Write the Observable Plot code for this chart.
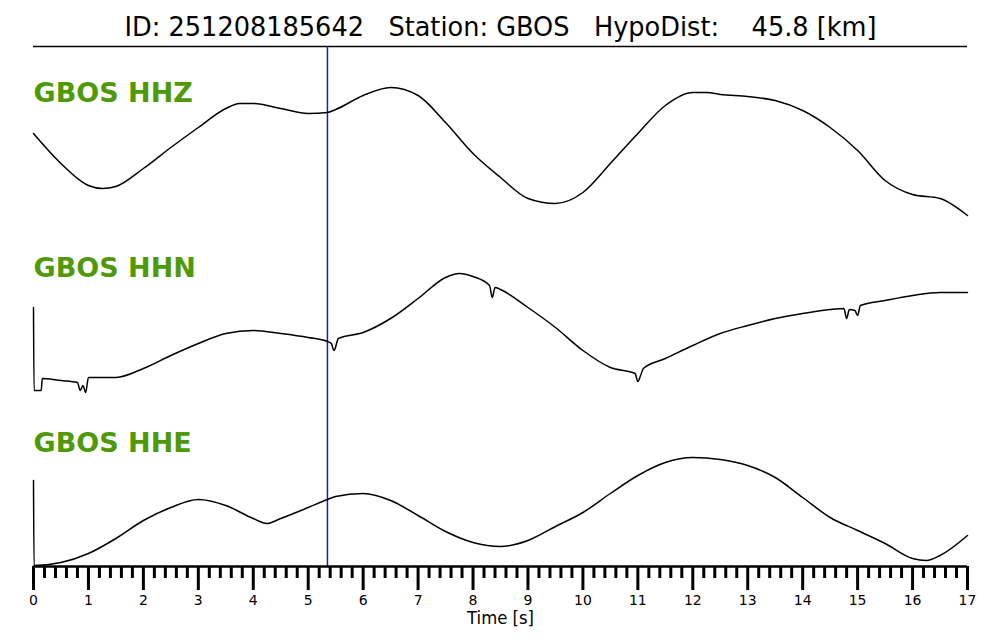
<!DOCTYPE html>
<html><head><meta charset="utf-8">
<script src="https://cdn.jsdelivr.net/npm/d3@7"></script>
<script src="https://cdn.jsdelivr.net/npm/@observablehq/plot@0.6"></script>
<style>body{margin:0;background:#fff} #chart svg{white-space:pre;display:block}</style>
</head><body><div id="chart"></div>
<script>
const title = "ID: 251208185642   Station: GBOS   HypoDist:    45.8 [km]";
const xLabel = "Time [s]";
const channels = ["GBOS HHZ", "GBOS HHN", "GBOS HHE"];
const pickTime = [5.35];
const majorTicks = d3.range(0, 18);
const minorTicks = d3.range(0, 86).map(i => i / 5).filter(v => !Number.isInteger(v));

// Relative amplitudes (arbitrary units, up = positive)
const hhzT = [0,0.5,1,1.25,1.5,2,2.5,3,3.5,3.75,4,4.5,5,5.35,5.5,6,6.5,7,7.5,8,8.5,9,9.5,10,10.5,11,11.5,12,12.25,12.5,13,13.5,14,14.5,15,15.5,16,16.5,17];
const hhzA = [17,-13,-35,-38,-36,-18,3,23,42,47,47,42,37,38,41,55,63,55,28,-3,-27,-48,-53,-42,-13,17,45,58,58,56,54,50,40,23,0,-30,-44,-48,-65];

const hhnT = [0,0.01,0.14,0.16,0.5,0.8,0.85,0.9,0.95,1.0,1.5,2,2.5,3,3.5,4,4.5,5,5.35,5.42,5.47,5.55,6,6.5,7,7.5,7.75,8,8.3,8.35,8.4,8.5,9,9.5,10,10.5,10.95,11.0,11.05,11.1,11.5,12,12.5,13,13.5,14,14.5,14.75,14.8,14.85,14.95,15.0,15.05,15.5,16,16.5,17];
const hhnA = [18,-65,-65,-53,-55,-57,-65,-60,-67,-52,-52,-43,-30,-18,-8,-5,-8,-12,-16,-18,-25,-13,-7,7,27,48,52,49,40,28,38,36,18,-2,-25,-42,-48,-56,-50,-43,-33,-20,-8,0,7,12,16,17,7,16,15,10,20,25,30,33,33];

const hheT = [0,0.01,0.5,1,1.5,2,2.5,3,3.5,4,4.25,4.5,5,5.35,5.5,6,6.5,7,7.5,8,8.5,9,9.5,10,10.5,11,11.5,12,12.5,13,13.5,14,14.5,15,15.5,16,16.25,16.5,17];
const hheA = [20,-65,-62,-53,-38,-20,-7,1,-5,-18,-23,-18,-7,1,4,7,0,-15,-31,-42,-46,-40,-26,-12,7,25,38,43,41,35,23,3,-17,-30,-43,-58,-60,-55,-35];

const spacing = 175;      // vertical separation between channels (amplitude units)
const labelLift = 49;     // channel label baseline above trace centre
const traces = [[hhzT, hhzA], [hhnT, hhnA], [hheT, hheA]];
const rows = traces.flatMap(([t, a], i) => t.map((tt, j) => ({channel: channels[i], t: tt, v: a[j] - i * spacing})));
const labels = channels.map((c, i) => ({channel: c, t: 0, v: labelLift - i * spacing}));

const yTop = 104, yBottom = -416;
const green = "#4e9a06";

const plot = Plot.plot({
  width: 1000, height: 640,
  marginLeft: 33, marginRight: 33, marginTop: 46, marginBottom: 74,
  x: {domain: [0, 17], axis: null},
  y: {domain: [yBottom, yTop], axis: null},
  style: {fontFamily: "DejaVu Sans", background: "#fff"},
  marks: [
    Plot.ruleY([yTop], {stroke: "#000", strokeWidth: 1.5}),
    Plot.ruleX(pickTime, {y1: yTop, y2: yBottom, stroke: "#1a1ad0", strokeWidth: 1.5}),
    Plot.line(rows, {x: "t", y: "v", z: "channel", stroke: "#000", strokeWidth: 1.5, curve: "monotone-x"}),
    Plot.text(labels, {x: "t", y: "v", text: "channel", textAnchor: "start", lineAnchor: "bottom", fill: green, fontWeight: "bold", fontSize: 27}),
    Plot.ruleY([yBottom], {stroke: "#000", strokeWidth: 2.5}),
    Plot.axisX({ticks: minorTicks, tickSize: 12, strokeWidth: 3, tickFormat: () => "", anchor: "bottom", label: null}),
    Plot.axisX({ticks: majorTicks, tickSize: 24, tickPadding: 5, strokeWidth: 3, fontSize: 14, tickFormat: d => String(d), anchor: "bottom", label: null}),
    Plot.text([xLabel], {frameAnchor: "bottom", dy: 57, lineAnchor: "bottom", fontSize: 17}),
    Plot.text([title], {frameAnchor: "top", dy: -19, lineAnchor: "middle", fontSize: 27})
  ]
});
document.getElementById("chart").appendChild(plot);
d3.select(plot).selectAll("text").filter(function(){ return this.textContent === title; })
  .attr("textLength", 752).attr("lengthAdjust", "spacingAndGlyphs");
d3.select(plot).selectAll("text").filter(function(){ return this.textContent === xLabel; })
  .attr("textLength", 67).attr("lengthAdjust", "spacingAndGlyphs");
</script></body></html>
